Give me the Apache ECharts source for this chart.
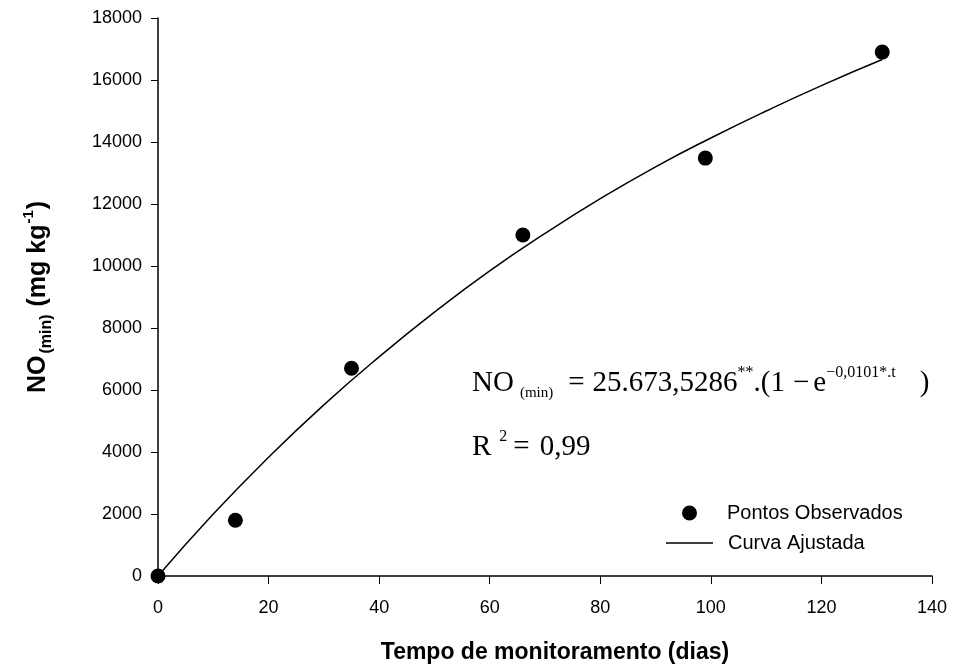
<!DOCTYPE html>
<html>
<head>
<meta charset="utf-8">
<script src="https://cdn.jsdelivr.net/npm/echarts@6/dist/echarts.min.js"></script>
<style>
  html, body { margin: 0; padding: 0; background: #fff; }
  #chart { width: 955px; height: 671px; }
</style>
</head>
<body>
<div id="chart"></div>
<script>
// Observed mineralized N (mg/kg) by monitoring day
const obsDays = [0, 14, 35, 66, 99, 131];
const obsValues = [0, 1800, 6700, 11000, 13480, 16900];

// Fitted curve, sampled along its length
const fitDays = [0, 10, 20, 30, 40, 50, 60, 70, 80, 90, 100, 110, 120, 131];
const fitValues = [0, 2000, 3830, 5520, 7070, 8510, 9840, 11050, 12170, 13200, 14130, 15000, 15820, 16660];

const xTicks = [0, 20, 40, 60, 80, 100, 120, 140];
const yTicks = [0, 2000, 4000, 6000, 8000, 10000, 12000, 14000, 16000, 18000];

const sans = 'Liberation Sans, Arial, sans-serif';
const serif = 'Liberation Serif, Times New Roman, serif';

const chart = echarts.init(document.getElementById('chart'));

// rich-text styles for the equation block
const eqRich = {
  t: { fontFamily: serif, fontSize: 29, lineHeight: 36, verticalAlign: 'middle', fill: '#000' },
  sub: { fontFamily: serif, fontSize: 15, lineHeight: 18, verticalAlign: 'bottom', fill: '#000' },
  sup: { fontFamily: serif, fontSize: 16, lineHeight: 8, verticalAlign: 'top', fill: '#000' }
};
function pad(style, left) {
  return Object.assign({}, eqRich[style], { padding: [0, 0, 0, left] });
}

chart.setOption({
  animation: false,
  backgroundColor: '#fff',
  grid: { left: 158, right: 23, top: 18, bottom: 95, containLabel: false },
  xAxis: {
    type: 'value',
    min: xTicks[0],
    max: xTicks[xTicks.length - 1],
    interval: xTicks[1] - xTicks[0],
    name: 'Tempo de monitoramento (dias)',
    nameLocation: 'middle',
    nameGap: 65,
    nameTextStyle: { fontFamily: sans, fontWeight: 'bold', fontSize: 23, color: '#000', padding: [0, 0, 0, 20] },
    axisLine: { show: true, onZero: false, lineStyle: { color: '#000', width: 1.5 } },
    axisTick: { show: true, inside: false, length: 8, lineStyle: { color: '#000', width: 1 } },
    axisLabel: { fontFamily: sans, fontSize: 18, color: '#000', margin: 23, formatter: v => String(v) },
    splitLine: { show: false }
  },
  yAxis: {
    type: 'value',
    min: yTicks[0],
    max: yTicks[yTicks.length - 1],
    interval: yTicks[1] - yTicks[0],
    name: '{b|NO}{sub|(min)}{b| (mg kg}{sup|-1}{b|)}',
    nameLocation: 'middle',
    nameRotate: 90,
    nameGap: 103,
    nameTextStyle: {
      color: '#000',
      rich: {
        b: { fontFamily: sans, fontWeight: 'bold', fontSize: 25, lineHeight: 34, verticalAlign: 'middle' },
        sub: { fontFamily: sans, fontWeight: 'bold', fontSize: 16, lineHeight: 18, verticalAlign: 'bottom', padding: [0, 1, 0, 2] },
        sup: { fontFamily: sans, fontWeight: 'bold', fontSize: 15, lineHeight: 12, verticalAlign: 'top', padding: [0, 1, 0, 1] }
      }
    },
    axisLine: { show: true, onZero: false, lineStyle: { color: '#000', width: 1.5 } },
    axisTick: { show: true, inside: false, length: 7, lineStyle: { color: '#000', width: 1 } },
    axisLabel: { fontFamily: sans, fontSize: 18, color: '#000', margin: 16, formatter: v => String(v) },
    splitLine: { show: false }
  },
  legend: [
    {
      data: [{ name: 'Pontos Observados', icon: 'circle' }],
      left: 682,
      top: 503,
      padding: 0,
      itemWidth: 15,
      itemHeight: 15,
      textStyle: { fontFamily: sans, fontSize: 20, color: '#000', padding: [0, 0, 0, 25] },
      selectedMode: false
    },
    {
      data: [{ name: 'Curva Ajustada', icon: 'rect' }],
      left: 666,
      top: 533,
      padding: 0,
      itemWidth: 47,
      itemHeight: 1.5,
      textStyle: { fontFamily: sans, fontSize: 20, color: '#000', padding: [0, 0, 0, 10] },
      selectedMode: false
    }
  ],
  graphic: [
    {
      type: 'text',
      left: 472,
      top: 365,
      style: {
        text: '{t|NO}{s|(min)}{e|=}{n|25.673,5286}{sup|**}{t|.(1}{m|−}{x|e}{sup|−0,0101*.t}{c|)}',
        rich: {
          t: eqRich.t,
          sup: eqRich.sup,
          s: pad('sub', 6),
          e: pad('t', 15),
          n: pad('t', 8),
          m: pad('t', 8),
          x: pad('t', 4),
          c: pad('t', 24)
        }
      }
    },
    {
      type: 'text',
      left: 472,
      top: 429,
      style: {
        text: '{t|R}{p|2}{e|=}{n|0,99}',
        rich: {
          t: eqRich.t,
          p: Object.assign({}, eqRich.sup, { padding: [0, 0, 0, 8] }),
          e: pad('t', 6),
          n: pad('t', 10)
        }
      }
    }
  ],
  series: [
    {
      name: 'Curva Ajustada',
      type: 'line',
      data: fitDays.map((d, i) => [d, fitValues[i]]),
      smooth: true,
      showSymbol: false,
      symbol: 'none',
      lineStyle: { color: '#000', width: 1.5 },
      itemStyle: { color: '#000' },
      z: 2
    },
    {
      name: 'Pontos Observados',
      type: 'scatter',
      data: obsDays.map((d, i) => [d, obsValues[i]]),
      symbol: 'circle',
      symbolSize: 15,
      itemStyle: { color: '#000', opacity: 1 },
      z: 3
    }
  ]
});
</script>
</body>
</html>
